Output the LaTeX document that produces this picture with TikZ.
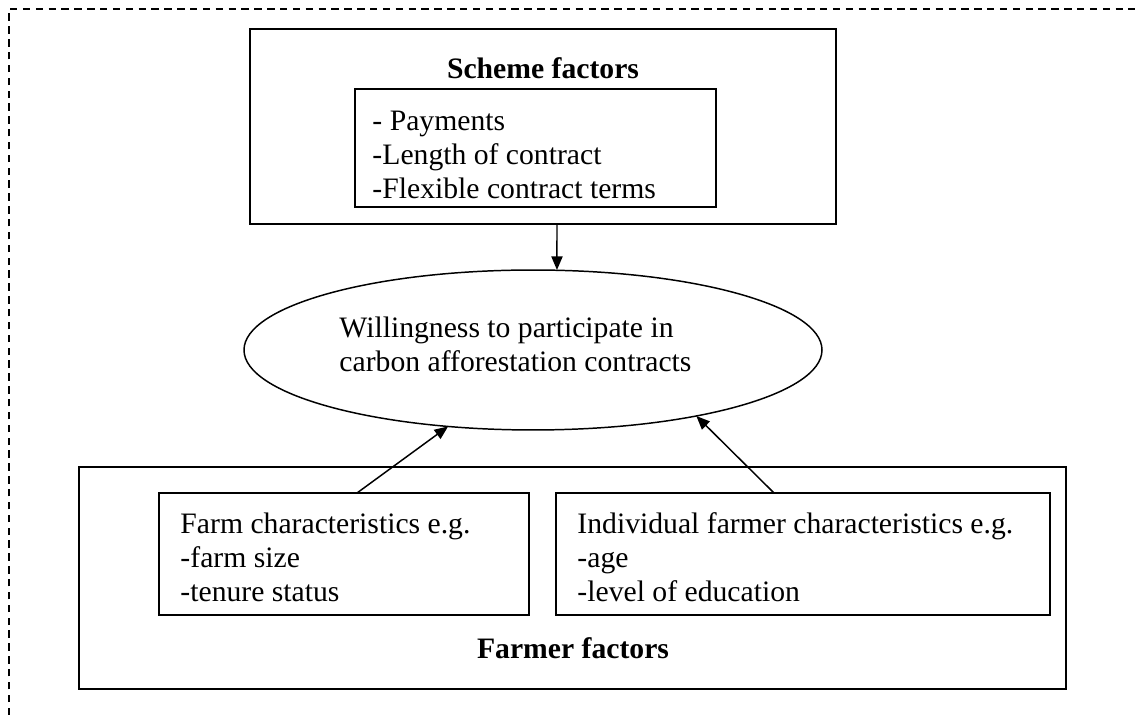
\documentclass[tikz,border=0pt]{standalone}
\usepackage{fontspec}
\setmainfont{Liberation Serif}
\usetikzlibrary{arrows.meta,shapes.geometric}
\begin{document}
\begin{tikzpicture}[x=0.4045pt,y=-0.4045pt,
  box/.style={draw,line width=0.7pt,inner sep=0pt,outer sep=0pt},
  oval/.style={draw,ellipse,line width=0.6pt,inner sep=0pt,outer sep=0pt},
  txt/.style={inner sep=0pt,align=left,font=\fontsize{12}{13.8}\selectfont},
  ttl/.style={inner sep=0pt,font=\fontsize{12}{13.8}\selectfont\bfseries},
  arr/.style={line width=0.6pt,-{Triangle[length=5.5pt,width=4.5pt]}}]
\useasboundingbox (0,0) rectangle (1135,715);
\coordinate (fa) at (9,715);
\coordinate (fb) at (9,9);
\coordinate (fc) at (1135,9);
\draw[dash pattern=on 3pt off 2.2pt, line width=0.45pt] (fa) -- (fb) -- (fc);

\node[box,minimum width=237.0pt,minimum height=78.9pt] (scheme) at (543,126.5) {};
\node[box,minimum width=146.0pt,minimum height=47.7pt] (schemein) at (535.5,148) {};
\node[oval,minimum width=233.8pt,minimum height=64.7pt] (will) at (533,350) {};
\node[box,minimum width=399.2pt,minimum height=89.8pt] (farmer) at (572.5,578) {};
\node[box,minimum width=149.7pt,minimum height=49.35pt] (farm) at (344,554) {};
\node[box,minimum width=199.8pt,minimum height=49.35pt] (indiv) at (803,554) {};

\node[ttl] (st) at (543,68) {Scheme factors};
\node[txt,anchor=west] (sl) at (372,155) {- Payments\\-Length of contract\\-Flexible contract terms};
\node[txt,anchor=west] (wt) at (339,344) {Willingness to participate in\\carbon afforestation contracts};
\node[txt,anchor=west] (ft) at (180,557) {Farm characteristics e.g.\\-farm size\\-tenure status};
\node[txt,anchor=west] (it) at (577,557) {Individual farmer characteristics e.g.\\-age\\-level of education};
\node[ttl] (fft) at (573,648) {Farmer factors};

\draw[arr] ([xshift=5.66pt]scheme.south) -- ([xshift=9.7pt]will.north);
\draw[arr] ([xshift=5.26pt]farm.north) -- (will.222);
\draw[arr] ([xshift=-11.73pt]indiv.north) -- (will.338);
\end{tikzpicture}
\end{document}
